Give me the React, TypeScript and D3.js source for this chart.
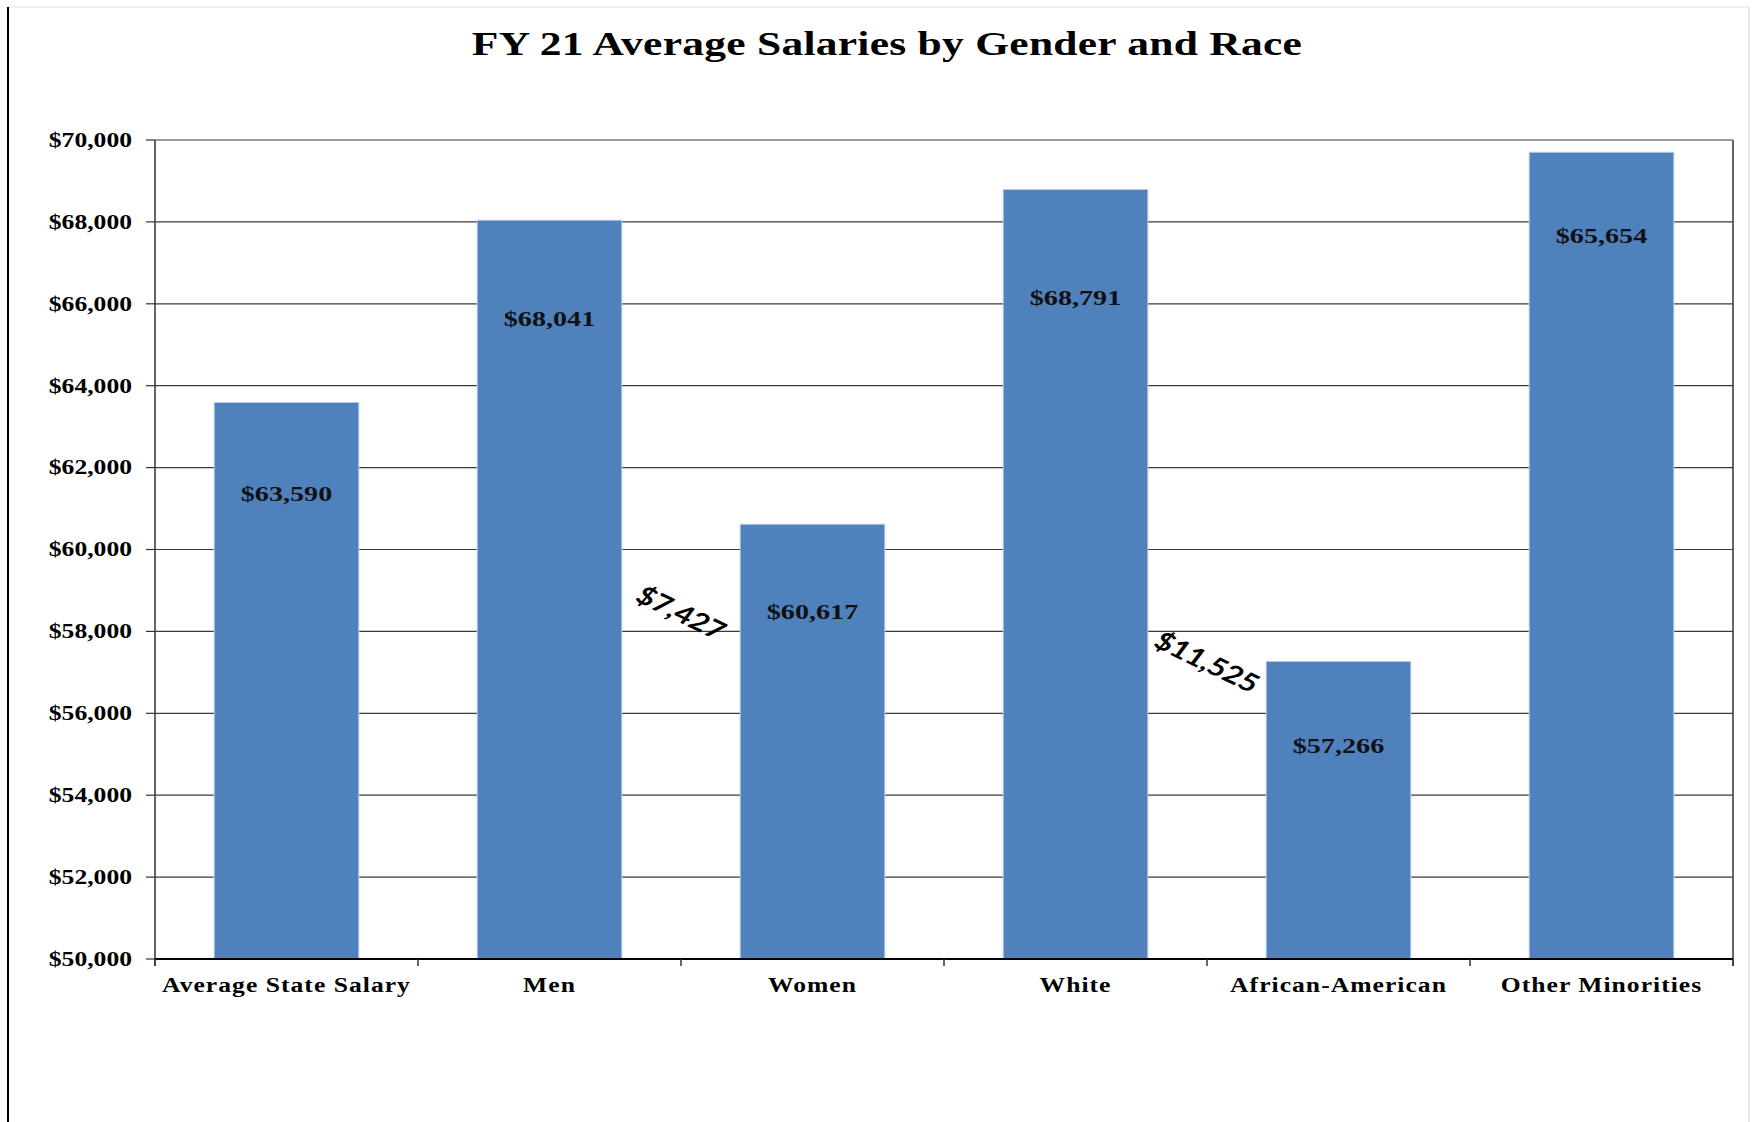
import React, { useRef, useEffect } from 'react';
import * as d3 from 'd3';

// chart data
const categories = ["Average State Salary", "Men", "Women", "White", "African-American", "Other Minorities"];
const barValues = [63590, 68041, 60617, 68791, 57266, 69700];
const barLabels = ["$63,590", "$68,041", "$60,617", "$68,791", "$57,266", "$65,654"];
// value (on the y axis) where each bar label sits
const labelAnchors = [61367, 65653, 58481, 66166, 55213, 67680];

// gap annotations between bar pairs
const gapLabels = ["$7,427", "$11,525"];
const gapPairs = [[1, 2], [3, 4]];
const gapAnchors = [58450, 57250];

const yTicks = [50000, 52000, 54000, 56000, 58000, 60000, 62000, 64000, 66000, 68000, 70000];
const title = "FY 21 Average Salaries by Gender and Race";

const W = 1763;
const H = 1122;
const STRETCH = 1.28; // text in the original looks stretched sideways
const serif = "'Liberation Serif', 'Times New Roman', serif";

const App = () => {
    const svgRef = useRef(null);

    useEffect(() => {
        const svg = d3.select(svgRef.current);
        svg.selectAll('*').remove();

        const margin = { top: 140, right: 30, bottom: 163, left: 155 };
        const x = d3.scaleBand()
            .domain(categories)
            .range([margin.left, W - margin.right])
            .paddingInner(0.45)
            .paddingOuter(0.225);
        const y = d3.scaleLinear()
            .domain([50000, 70000])
            .range([H - margin.bottom, margin.top]);

        const x0 = margin.left, x1 = W - margin.right;
        const fmt = (v) => "$" + d3.format(",")(v);

        // helper for stretched text
        const addText = (px, py, str, size, opts = {}) => {
            const g = svg.append("g")
                .attr("transform", `translate(${px},${py}) scale(${opts.sx ?? STRETCH},1)${opts.rotate ? ` rotate(${opts.rotate})` : ''}`);
            g.append("text")
                .attr("text-anchor", opts.anchor ?? "middle")
                .attr("dy", opts.dy ?? "0")
                .attr("font-family", opts.family ?? serif)
                .attr("font-weight", opts.weight ?? "bold")
                .attr("font-size", size)
                .attr("letter-spacing", opts.spacing ?? 0)
                .attr("fill", opts.fill ?? "#000")
                .text(str);
            return g;
        };

        // outer frame
        svg.append("rect").attr("x", 0).attr("y", 0).attr("width", W).attr("height", H).attr("fill", "#fff");
        svg.append("line").attr("x1", 8).attr("x2", 1749).attr("y1", 7).attr("y2", 7)
            .attr("stroke", "#e2e2e2").attr("stroke-width", 1);
        svg.append("line").attr("x1", 1749).attr("x2", 1749).attr("y1", 7).attr("y2", H)
            .attr("stroke", "#dcdcdc").attr("stroke-width", 1.5);
        svg.append("line").attr("x1", 8).attr("x2", 8).attr("y1", 7).attr("y2", H)
            .attr("stroke", "#000").attr("stroke-width", 2);

        // title
        addText(887, 55, title, 34, { spacing: 0.2 });

        // gridlines
        svg.append("g")
            .selectAll("line")
            .data(yTicks)
            .enter().append("line")
            .attr("x1", x0).attr("x2", x1)
            .attr("y1", d => y(d)).attr("y2", d => y(d))
            .attr("stroke", "#3a3a3a")
            .attr("stroke-width", 1.2);

        // right border of plot area
        svg.append("line")
            .attr("x1", x1).attr("x2", x1)
            .attr("y1", y(70000)).attr("y2", y(50000) + 7)
            .attr("stroke", "#333").attr("stroke-width", 1.5);

        // bars
        svg.append("g")
            .selectAll("rect")
            .data(categories)
            .enter().append("rect")
            .attr("x", d => x(d))
            .attr("width", x.bandwidth())
            .attr("y", (d, i) => y(barValues[i]))
            .attr("height", (d, i) => y(50000) - y(barValues[i]))
            .attr("fill", "#4F81BD")
            .attr("stroke", "#b9cde5")
            .attr("stroke-width", 1);

        // y axis
        svg.append("line")
            .attr("x1", x0).attr("x2", x0)
            .attr("y1", y(70000)).attr("y2", y(50000) + 7)
            .attr("stroke", "#333").attr("stroke-width", 1.5);
        yTicks.forEach(t => {
            svg.append("line")
                .attr("x1", x0 - 9).attr("x2", x0)
                .attr("y1", y(t)).attr("y2", y(t))
                .attr("stroke", "#333").attr("stroke-width", 1.2);
            addText(x0 - 23, y(t), fmt(t), 20, { anchor: "end", dy: "0.34em" });
        });

        // x axis
        svg.append("line")
            .attr("x1", x0).attr("x2", x1)
            .attr("y1", y(50000)).attr("y2", y(50000))
            .attr("stroke", "#000").attr("stroke-width", 1.8);
        d3.range(categories.length + 1).forEach(i => {
            const bx = x0 + i * x.step();
            svg.append("line")
                .attr("x1", bx).attr("x2", bx)
                .attr("y1", y(50000)).attr("y2", y(50000) + 7)
                .attr("stroke", "#333").attr("stroke-width", 1.5);
        });
        categories.forEach(c => {
            addText(x(c) + x.bandwidth() / 2, y(50000) + 33, c, 20, { spacing: 0.8 });
        });

        // bar value labels
        categories.forEach((c, i) => {
            addText(x(c) + x.bandwidth() / 2, y(labelAnchors[i]), barLabels[i], 22, { dy: "0.35em", fill: "#111" });
        });

        // gap labels (diagonal)
        gapLabels.forEach((lbl, i) => {
            const [a, b] = gapPairs[i];
            const cx = (x(categories[a]) + x(categories[b]) + x.bandwidth()) / 2;
            addText(cx, y(gapAnchors[i]), lbl, 25, {
                family: "Lato, 'Noto Sans', sans-serif",
                weight: "bold",
                dy: "0.35em",
                rotate: 31,
                sx: 1.25,
            });
        });

        return () => {
            d3.select(svgRef.current).selectAll('*').remove();
        };
    }, []);

    return (
        <svg ref={svgRef} width={W} height={H}
            style={{ position: 'absolute', left: 0, top: 0, display: 'block' }}></svg>
    );
};

export default App;
